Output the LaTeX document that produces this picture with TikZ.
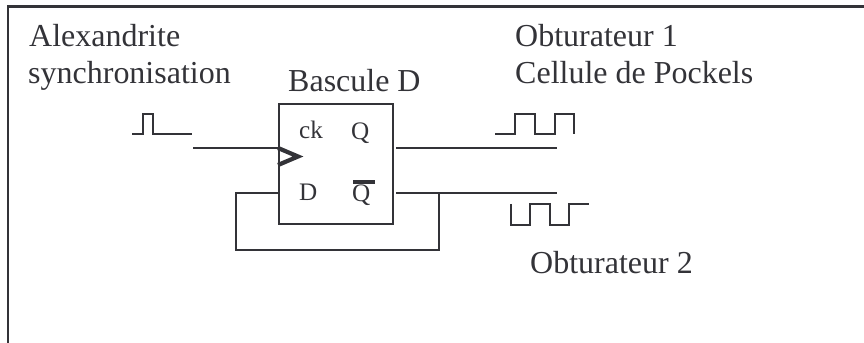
\documentclass[tikz,border=0pt]{standalone}
\usepackage{fontspec}
\setmainfont{Liberation Serif}
\usepackage{tikz}
\usetikzlibrary{positioning,calc}
\definecolor{csink}{RGB}{51,51,56}
\tikzset{
  legende/.style={anchor=base west, inner sep=0pt, text=csink, font=\fontsize{27.3}{30}\selectfont},
  borne/.style={anchor=base west, inner sep=0pt, text=csink, font=\fontsize{21.5}{24}\selectfont},
  bascule/.style={draw=csink, line width=1.6pt, minimum width=114*0.03cm, minimum height=120*0.03cm, inner sep=0pt},
  fil/.style={draw=csink, line width=1.4pt},
  cadre/.style={draw=csink, line width=2.1pt},
  signal/.style={draw=csink, line width=1.7pt},
}
\begin{document}
\begin{tikzpicture}[x=0.03cm, y=-0.03cm]
  \useasboundingbox (0,0) rectangle (864,343);
  % cadre
  \coordinate (hg) at (8,6.5);
  \coordinate (hd) at (864,6.5);
  \coordinate (bg) at (8,343);
  \draw[cadre] (bg) -- (hg) -- (hd);
  % textes
  \node[legende] (alex) at (29,47) {Alexandrite};
  \node[legende] (sync) at (28,84) {synchronisation};
  \node[legende] (titre) at (288,92) {Bascule D};
  \node[legende] (obt1) at (515,47) {Obturateur 1};
  \node[legende] (cell) at (515,84) {Cellule de Pockels};
  \node[legende] (obt2) at (530,274) {Obturateur 2};
  % bascule
  \node[bascule] (ff) at (336,164) {};
  \node[borne] (ck) at (299,139) {ck};
  \node[borne] (q) at (351,140) {Q};
  \node[borne] (d) at (299,201) {D};
  \node[borne] (qb) at (352,202) {\rlap{\hspace{0.8pt}\rule[15.4pt]{18.8pt}{3pt}}Q};
  \draw[csink, line width=3.6pt, miter limit=10] (ff.west |- 0,148) -- (298,156.5) -- (ff.west |- 0,165);
  % fils
  \coordinate (ckin) at (193,148);
  \coordinate (ckff) at (ff.west |- ckin);
  \coordinate (qout) at (396,148);
  \coordinate (qfin) at (557,148);
  \coordinate (qbout) at (396,193);
  \coordinate (qbfin) at (557,193);
  \coordinate (dff) at (ff.west |- qbout);
  \coordinate (noeud) at (439,193);
  \draw[fil] (ckin) -- (ckff);
  \draw[fil] (qout) -- (qfin);
  \draw[fil] (qbout) -- (qbfin);
  \draw[fil] (dff) -- (236,193) -- (236,250) -- (439,250) -- (noeud);
  % signaux
  \draw[signal] (132,134) -- (143,134) -- (143,114) -- (153,114) -- (153,134) -- (192,134);
  \draw[signal] (495,134) -- (515,134) -- (515,114) -- (535,114) -- (535,134) -- (555,134) -- (555,114) -- (574,114) -- (574,134);
  \draw[signal] (511,204) -- (511,225) -- (530,225) -- (530,204) -- (550,204) -- (550,225) -- (569,225) -- (569,204) -- (589,204);
\end{tikzpicture}
\end{document}
